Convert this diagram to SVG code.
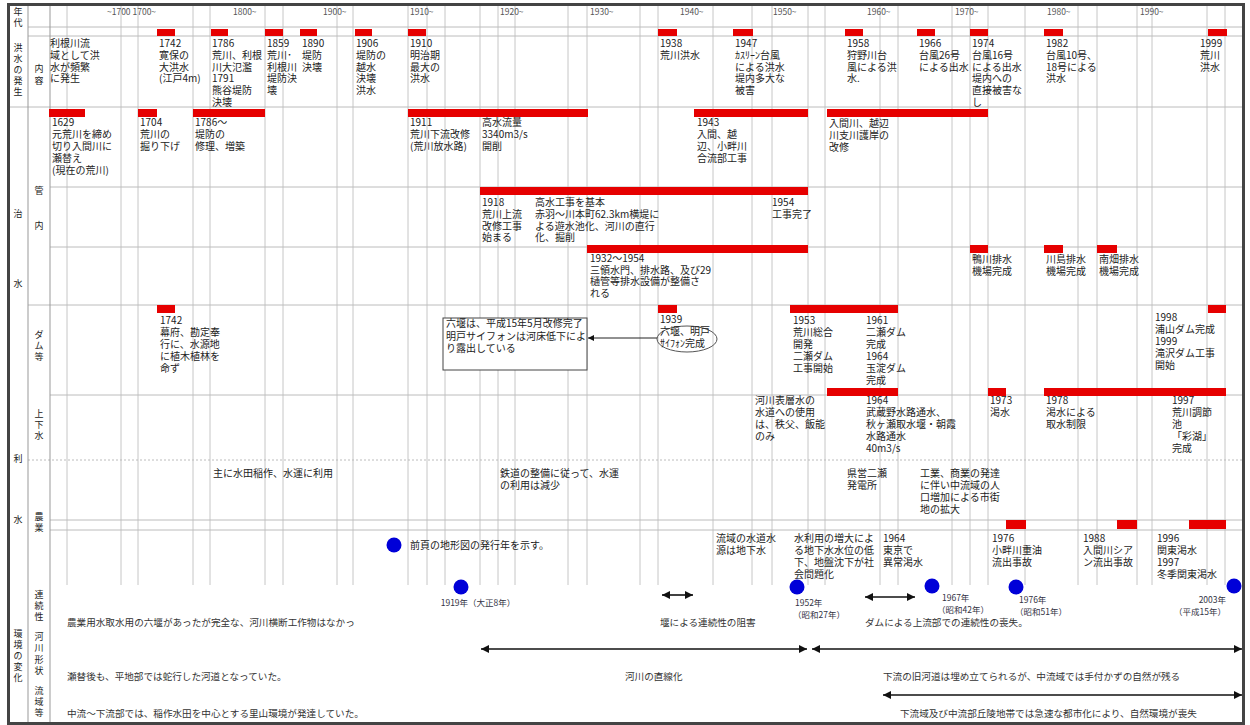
<svg xmlns="http://www.w3.org/2000/svg" width="1250" height="725" viewBox="0 0 1250 725">
<defs>
<style>
text{font-family:"Noto Sans CJK JP","Noto Sans",sans-serif;font-size:10px;fill:#222}
.hd{font-size:8.5px;fill:#555}
.lb{font-size:9px;fill:#222}
.yr{font-size:8.5px;fill:#334}
.lo{font-size:9.6px;fill:#333}
.bar{fill:#e60000}
.dot{fill:#0000d8}
.grid{stroke:#c6c6c6;stroke-width:1;fill:none}
.hl{stroke:#bcbcbc;stroke-width:1;fill:none}
.arr{stroke:#111;stroke-width:1.6;fill:none;marker-start:url(#ah);marker-end:url(#ah)}
.one{stroke:#222;stroke-width:1;fill:none;marker-end:url(#ah2)}
</style>
<marker id="ah" viewBox="0 0 10 10" refX="10" refY="5" markerWidth="9" markerHeight="8" markerUnits="userSpaceOnUse" orient="auto-start-reverse"><path d="M0,0L10,5L0,10z" fill="#111"/></marker>
<marker id="ah2" viewBox="0 0 10 10" refX="10" refY="5" markerWidth="7" markerHeight="6" markerUnits="userSpaceOnUse" orient="auto"><path d="M0,0L10,5L0,10z" fill="#111"/></marker>
</defs>
<rect x="0" y="0" width="1250" height="725" fill="#fff"/>

<g id="grid">
<path class="grid" d="M67,5V585M121,5V585M138,5V585M193,5V585M210,5V585M265,5V585M283,5V585M337,5V585M353,5V585M408,5V585M427,5V585M445,5V585M480,5V585M498,5V585M515,5V585M568,5V585M587,5V585M640,5V585M658,5V585M713,5V585M752,5V585M772,5V585M808,5V585M825,5V585M880,5V585M898,5V585M952,5V585M970,5V585M988,5V585M1025,5V585M1078,5V585M1097,5V585M1137,5V585M1152,5V585M1207,5V585M1225,5V585"/>
<path class="hl" d="M28,27H1243M28,36H1243M10,107H1243M50,187H1243M50,247H1243M28,305H1243M50,395H1243M50,520H1243M50,530H1243"/>
<path class="hl" stroke-dasharray="2 2" d="M28,460H1243"/>
<path stroke="#999" stroke-width="1" fill="none" d="M28,5V722M50,5V722"/>
<rect x="8.5" y="4.5" width="1235" height="719" fill="none" stroke="#444" stroke-width="3"/>
</g>

<g id="side-labels" text-anchor="middle" dominant-baseline="central">
<text class="lb" x="18" y="11">年</text><text class="lb" x="18" y="22">代</text>
<text class="lb" x="18" y="47">洪</text><text class="lb" x="18" y="58">水</text><text class="lb" x="18" y="69">の</text><text class="lb" x="18" y="80">発</text><text class="lb" x="18" y="91">生</text>
<text class="lb" x="39" y="68">内</text><text class="lb" x="39" y="80">容</text>
<text class="lb" x="39" y="190">管</text><text class="lb" x="39" y="225">内</text>
<text class="lb" x="18" y="213">治</text><text class="lb" x="18" y="283">水</text>
<text class="lb" x="39" y="334">ダ</text><text class="lb" x="39" y="345">ム</text><text class="lb" x="39" y="356">等</text>
<text class="lb" x="39" y="413">上</text><text class="lb" x="39" y="424">下</text><text class="lb" x="39" y="435">水</text>
<text class="lb" x="18" y="458">利</text><text class="lb" x="18" y="519">水</text>
<text class="lb" x="39" y="516">農</text><text class="lb" x="39" y="527">業</text>
<text class="lb" x="39" y="594">連</text><text class="lb" x="39" y="605">続</text><text class="lb" x="39" y="616">性</text>
<text class="lb" x="39" y="636">河</text><text class="lb" x="39" y="647">川</text><text class="lb" x="39" y="659">形</text><text class="lb" x="39" y="670">状</text>
<text class="lb" x="39" y="690">流</text><text class="lb" x="39" y="701">域</text><text class="lb" x="39" y="712">等</text>
<text class="lb" x="18" y="633">環</text><text class="lb" x="18" y="644">境</text><text class="lb" x="18" y="655">の</text><text class="lb" x="18" y="666">変</text><text class="lb" x="18" y="677">化</text>
</g>

<g id="decades">
<text class="hd" x="107" y="15">~1700 1700~</text>
<text class="hd" x="233" y="15">1800~</text>
<text class="hd" x="323" y="15">1900~</text>
<text class="hd" x="410" y="15">1910~</text>
<text class="hd" x="500" y="15">1920~</text>
<text class="hd" x="590" y="15">1930~</text>
<text class="hd" x="680" y="15">1940~</text>
<text class="hd" x="773" y="15">1950~</text>
<text class="hd" x="867" y="15">1960~</text>
<text class="hd" x="955" y="15">1970~</text>
<text class="hd" x="1047" y="15">1980~</text>
<text class="hd" x="1140" y="15">1990~</text>
</g>

<g id="bars">
<rect class="bar" x="157" y="29" width="18" height="7"/>
<rect class="bar" x="211" y="29" width="17" height="7"/>
<rect class="bar" x="265" y="29" width="18" height="7"/>
<rect class="bar" x="300" y="29" width="17" height="7"/>
<rect class="bar" x="355" y="29" width="17" height="7"/>
<rect class="bar" x="408" y="29" width="18" height="7"/>
<rect class="bar" x="658" y="29" width="19" height="7"/>
<rect class="bar" x="733" y="29" width="20" height="7"/>
<rect class="bar" x="845" y="29" width="18" height="7"/>
<rect class="bar" x="917" y="29" width="18" height="7"/>
<rect class="bar" x="970" y="29" width="18" height="7"/>
<rect class="bar" x="1044" y="29" width="19" height="7"/>
<rect class="bar" x="1208" y="29" width="19" height="7"/>

<rect class="bar" x="49" y="109" width="36" height="8"/>
<rect class="bar" x="138" y="109" width="19" height="8"/>
<rect class="bar" x="193" y="109" width="72" height="8"/>
<rect class="bar" x="408" y="109" width="180" height="8"/>
<rect class="bar" x="694" y="109" width="114" height="8"/>
<rect class="bar" x="827" y="109" width="161" height="8"/>

<rect class="bar" x="480" y="187" width="328" height="8"/>
<rect class="bar" x="587" y="245" width="221" height="8"/>
<rect class="bar" x="970" y="245" width="18" height="8"/>
<rect class="bar" x="1044" y="245" width="19" height="8"/>
<rect class="bar" x="1097" y="245" width="20" height="8"/>

<rect class="bar" x="157" y="305" width="18" height="8"/>
<rect class="bar" x="658" y="305" width="19" height="8"/>
<rect class="bar" x="790" y="305" width="108" height="8"/>
<rect class="bar" x="1208" y="305" width="18" height="8"/>

<rect class="bar" x="827" y="388" width="71" height="8"/>
<rect class="bar" x="988" y="388" width="18" height="8"/>
<rect class="bar" x="1044" y="388" width="182" height="8"/>

<rect class="bar" x="1006" y="520" width="20" height="9"/>
<rect class="bar" x="1117" y="520" width="20" height="9"/>
<rect class="bar" x="1189" y="520" width="37" height="9"/>
</g>

<g id="flood">
<g id="f-pre"><text x="50" y="47"><tspan x="50">利根川流</tspan><tspan x="50" dy="11.8">域として洪</tspan><tspan x="50" dy="11.8">水が頻繁</tspan><tspan x="50" dy="11.8">に発生</tspan></text></g>
<g id="f-1742"><text x="159" y="47"><tspan x="159">1742</tspan><tspan x="159" dy="11.8">寛保の</tspan><tspan x="159" dy="11.8">大洪水</tspan><tspan x="159" dy="11.8">(江戸4m)</tspan></text></g>
<g id="f-1786"><text x="212" y="47"><tspan x="212">1786</tspan><tspan x="212" dy="11.8">荒川、利根</tspan><tspan x="212" dy="11.8">川大氾濫</tspan><tspan x="212" dy="11.8">1791</tspan><tspan x="212" dy="11.8">熊谷堤防</tspan><tspan x="212" dy="11.8">決壊</tspan></text></g>
<g id="f-1859"><text x="267" y="47"><tspan x="267">1859</tspan><tspan x="267" dy="11.8">荒川･</tspan><tspan x="267" dy="11.8">利根川</tspan><tspan x="267" dy="11.8">堤防決</tspan><tspan x="267" dy="11.8">壊</tspan></text></g>
<g id="f-1890"><text x="302" y="47"><tspan x="302">1890</tspan><tspan x="302" dy="11.8">堤防</tspan><tspan x="302" dy="11.8">決壊</tspan></text></g>
<g id="f-1906"><text x="356" y="47"><tspan x="356">1906</tspan><tspan x="356" dy="11.8">堤防の</tspan><tspan x="356" dy="11.8">越水</tspan><tspan x="356" dy="11.8">決壊</tspan><tspan x="356" dy="11.8">洪水</tspan></text></g>
<g id="f-1910"><text x="410" y="47"><tspan x="410">1910</tspan><tspan x="410" dy="11.8">明治期</tspan><tspan x="410" dy="11.8">最大の</tspan><tspan x="410" dy="11.8">洪水</tspan></text></g>
<g id="f-1938"><text x="660" y="47"><tspan x="660">1938</tspan><tspan x="660" dy="11.8">荒川洪水</tspan></text></g>
<g id="f-1947"><text x="735" y="47"><tspan x="735">1947</tspan><tspan x="735" dy="11.8">ｶｽﾘｰﾝ台風</tspan><tspan x="735" dy="11.8">による洪水</tspan><tspan x="735" dy="11.8">堤内多大な</tspan><tspan x="735" dy="11.8">被害</tspan></text></g>
<g id="f-1958"><text x="847" y="47"><tspan x="847">1958</tspan><tspan x="847" dy="11.8">狩野川台</tspan><tspan x="847" dy="11.8">風による洪</tspan><tspan x="847" dy="11.8">水.</tspan></text></g>
<g id="f-1966"><text x="919" y="47"><tspan x="919">1966</tspan><tspan x="919" dy="11.8">台風26号</tspan><tspan x="919" dy="11.8">による出水</tspan></text></g>
<g id="f-1974"><text x="972" y="47"><tspan x="972">1974</tspan><tspan x="972" dy="11.8">台風16号</tspan><tspan x="972" dy="11.8">による出水</tspan><tspan x="972" dy="11.8">堤内への</tspan><tspan x="972" dy="11.8">直接被害な</tspan><tspan x="972" dy="11.8">し</tspan></text></g>
<g id="f-1982"><text x="1046" y="47"><tspan x="1046">1982</tspan><tspan x="1046" dy="11.8">台風10号、</tspan><tspan x="1046" dy="11.8">18号による</tspan><tspan x="1046" dy="11.8">洪水</tspan></text></g>
<g id="f-1999"><text x="1200" y="47"><tspan x="1200">1999</tspan><tspan x="1200" dy="11.8">荒川</tspan><tspan x="1200" dy="11.8">洪水</tspan></text></g>
</g>

<g id="flood-control">
<g id="c-1629"><text x="52" y="126"><tspan x="52">1629</tspan><tspan x="52" dy="12">元荒川を締め</tspan><tspan x="52" dy="12">切り入間川に</tspan><tspan x="52" dy="12">瀬替え</tspan><tspan x="52" dy="12">(現在の荒川)</tspan></text></g>
<g id="c-1704"><text x="140" y="126"><tspan x="140">1704</tspan><tspan x="140" dy="12">荒川の</tspan><tspan x="140" dy="12">掘り下げ</tspan></text></g>
<g id="c-1786"><text x="195" y="126"><tspan x="195">1786～</tspan><tspan x="195" dy="12">堤防の</tspan><tspan x="195" dy="12">修理、増築</tspan></text></g>
<g id="c-1911"><text x="410" y="126"><tspan x="410">1911</tspan><tspan x="410" dy="12">荒川下流改修</tspan><tspan x="410" dy="12">(荒川放水路)</tspan></text><text x="482" y="126"><tspan x="482">高水流量</tspan><tspan x="482" dy="12">3340m3/s</tspan><tspan x="482" dy="12">開削</tspan></text></g>
<g id="c-1943"><text x="697" y="126"><tspan x="697">1943</tspan><tspan x="697" dy="12">入間、越</tspan><tspan x="697" dy="12">辺、小畔川</tspan><tspan x="697" dy="12">合流部工事</tspan></text></g>
<g id="c-iruma"><text x="829" y="127"><tspan x="829">入間川、越辺</tspan><tspan x="829" dy="12">川支川護岸の</tspan><tspan x="829" dy="12">改修</tspan></text></g>
<g id="c-1918"><text x="482" y="206"><tspan x="482">1918</tspan><tspan x="482" dy="11.8">荒川上流</tspan><tspan x="482" dy="11.8">改修工事</tspan><tspan x="482" dy="11.8">始まる</tspan></text><text x="535" y="206"><tspan x="535">高水工事を基本</tspan><tspan x="535" dy="11.8">赤羽～川本町62.3km横堤に</tspan><tspan x="535" dy="11.8">よる遊水池化、河川の直行</tspan><tspan x="535" dy="11.8">化、掘削</tspan></text></g>
<g id="c-1954"><text x="772" y="206"><tspan x="772">1954</tspan><tspan x="772" dy="11.8">工事完了</tspan></text></g>
<g id="c-1932"><text x="590" y="262"><tspan x="590">1932～1954</tspan><tspan x="590" dy="11.7">三領水門、排水路、及び29</tspan><tspan x="590" dy="11.7">樋管等排水設備が整備さ</tspan><tspan x="590" dy="11.7">れる</tspan></text></g>
<g id="c-kamo"><text x="972" y="263"><tspan x="972">鴨川排水</tspan><tspan x="972" dy="11.7">機場完成</tspan></text></g>
<g id="c-kawajima"><text x="1046" y="263"><tspan x="1046">川島排水</tspan><tspan x="1046" dy="11.7">機場完成</tspan></text></g>
<g id="c-minami"><text x="1099" y="263"><tspan x="1099">南畑排水</tspan><tspan x="1099" dy="11.7">機場完成</tspan></text></g>
</g>

<g id="dams">
<g id="d-1742"><text x="160" y="324"><tspan x="160">1742</tspan><tspan x="160" dy="12">幕府、勘定奉</tspan><tspan x="160" dy="12">行に、水源地</tspan><tspan x="160" dy="12">に植木植林を</tspan><tspan x="160" dy="12">命ず</tspan></text></g>
<g id="d-note"><rect x="443" y="318" width="144" height="52" fill="#fff" stroke="#444" stroke-width="1"/><text x="446" y="327"><tspan x="446">六堰は、平成15年5月改修完了</tspan><tspan x="446" dy="12.5">明戸サイフォンは河床低下によ</tspan><tspan x="446" dy="12.5">り露出している</tspan></text></g>
<g id="d-1939"><ellipse cx="687" cy="339" rx="30" ry="13" fill="none" stroke="#555" stroke-width="1"/><text x="660" y="323"><tspan x="660">1939</tspan><tspan x="660" dy="12">六堰、明戸</tspan><tspan x="660" dy="12">ｻｲﾌｫﾝ完成</tspan></text></g>
<g id="d-1953"><text x="793" y="324"><tspan x="793">1953</tspan><tspan x="793" dy="12">荒川総合</tspan><tspan x="793" dy="12">開発</tspan><tspan x="793" dy="12">二瀬ダム</tspan><tspan x="793" dy="12">工事開始</tspan></text></g>
<g id="d-1961"><text x="866" y="324"><tspan x="866">1961</tspan><tspan x="866" dy="12">二瀬ダム</tspan><tspan x="866" dy="12">完成</tspan><tspan x="866" dy="12">1964</tspan><tspan x="866" dy="12">玉淀ダム</tspan><tspan x="866" dy="12">完成</tspan></text></g>
<g id="d-1998"><text x="1155" y="321"><tspan x="1155">1998</tspan><tspan x="1155" dy="12">浦山ダム完成</tspan><tspan x="1155" dy="12">1999</tspan><tspan x="1155" dy="12">滝沢ダム工事</tspan><tspan x="1155" dy="12">開始</tspan></text></g>
</g>

<g id="water-supply">
<g id="w-surface"><text x="755" y="404"><tspan x="755">河川表層水の</tspan><tspan x="755" dy="12">水道への使用</tspan><tspan x="755" dy="12">は、秩父、飯能</tspan><tspan x="755" dy="12">のみ</tspan></text></g>
<g id="w-1964"><text x="866" y="404"><tspan x="866">1964</tspan><tspan x="866" dy="12">武蔵野水路通水、</tspan><tspan x="866" dy="12">秋ヶ瀬取水堰・朝霞</tspan><tspan x="866" dy="12">水路通水</tspan><tspan x="866" dy="12">40m3/s</tspan></text></g>
<g id="w-1973"><text x="990" y="404"><tspan x="990">1973</tspan><tspan x="990" dy="12">渇水</tspan></text></g>
<g id="w-1978"><text x="1046" y="404"><tspan x="1046">1978</tspan><tspan x="1046" dy="12">渇水による</tspan><tspan x="1046" dy="12">取水制限</tspan></text></g>
<g id="w-1997"><text x="1172" y="404"><tspan x="1172">1997</tspan><tspan x="1172" dy="12">荒川調節</tspan><tspan x="1172" dy="12">池</tspan><tspan x="1172" dy="12">「彩湖」</tspan><tspan x="1172" dy="12">完成</tspan></text></g>
</g>

<g id="water-use">
<g id="u-paddy"><text x="213" y="477">主に水田稲作、水運に利用</text></g>
<g id="u-rail"><text x="500" y="477"><tspan x="500">鉄道の整備に従って、水運</tspan><tspan x="500" dy="12">の利用は減少</tspan></text></g>
<g id="u-power"><text x="847" y="477"><tspan x="847">県営二瀬</tspan><tspan x="847" dy="12">発電所</tspan></text></g>
<g id="u-urban"><text x="920" y="477"><tspan x="920">工業、商業の発達</tspan><tspan x="920" dy="12">に伴い中流域の人</tspan><tspan x="920" dy="12">口増加による市街</tspan><tspan x="920" dy="12">地の拡大</tspan></text></g>
<g id="u-ground"><text x="716" y="542"><tspan x="716">流域の水道水</tspan><tspan x="716" dy="12">源は地下水</tspan></text></g>
<g id="u-subsid"><text x="794" y="542"><tspan x="794">水利用の増大によ</tspan><tspan x="794" dy="12">る地下水水位の低</tspan><tspan x="794" dy="12">下、地盤沈下が社</tspan><tspan x="794" dy="12">会問題化</tspan></text></g>
<g id="u-1964"><text x="883" y="542"><tspan x="883">1964</tspan><tspan x="883" dy="12">東京で</tspan><tspan x="883" dy="12">異常渇水</tspan></text></g>
<g id="u-1976"><text x="992" y="542"><tspan x="992">1976</tspan><tspan x="992" dy="12">小畔川重油</tspan><tspan x="992" dy="12">流出事故</tspan></text></g>
<g id="u-1988"><text x="1083" y="542"><tspan x="1083">1988</tspan><tspan x="1083" dy="12">入間川シア</tspan><tspan x="1083" dy="12">ン流出事故</tspan></text></g>
<g id="u-1996"><text x="1157" y="542"><tspan x="1157">1996</tspan><tspan x="1157" dy="12">関東渇水</tspan><tspan x="1157" dy="12">1997</tspan><tspan x="1157" dy="12">冬季関東渇水</tspan></text></g>
</g>

<g id="maps">
<g id="m-legend"><circle class="dot" cx="394" cy="545" r="7.5"/><text x="410" y="549">前頁の地形図の発行年を示す。</text></g>
<g id="m-1919"><circle class="dot" cx="461" cy="587" r="7.5"/><text class="yr" x="478" y="606" text-anchor="middle">1919年（大正8年）</text></g>
<g id="m-1952"><circle class="dot" cx="797" cy="587" r="7.5"/><text class="yr" x="795" y="606"><tspan x="795">1952年</tspan><tspan x="793" dy="12">（昭和27年）</tspan></text></g>
<g id="m-1967"><circle class="dot" cx="932" cy="586" r="7.5"/><text class="yr" x="942" y="601"><tspan x="942">1967年</tspan><tspan x="937" dy="12">（昭和42年）</tspan></text></g>
<g id="m-1976"><circle class="dot" cx="1016" cy="587" r="7.5"/><text class="yr" x="1019" y="603"><tspan x="1019">1976年</tspan><tspan x="1015" dy="12">（昭和51年）</tspan></text></g>
<g id="m-2003"><circle class="dot" cx="1234" cy="586" r="7.5"/><text class="yr" x="1226" y="603" text-anchor="end"><tspan x="1226">2003年</tspan><tspan x="1226" dy="12">（平成15年）</tspan></text></g>
</g>

<g id="environment">
<g id="e-cont-1"><text class="lo" x="67" y="626">農業用水取水用の六堰があったが完全な、河川横断工作物はなかっ</text></g>
<g id="e-cont-2"><text class="lo" x="660" y="626">堰による連続性の阻害</text></g>
<g id="e-cont-3"><text class="lo" x="865" y="626">ダムによる上流部での連続性の喪失。</text></g>
<g id="e-shape-1"><text class="lo" x="67" y="680">瀬替後も、平地部では蛇行した河道となっていた。</text></g>
<g id="e-shape-2"><text class="lo" x="625" y="680">河川の直線化</text></g>
<g id="e-shape-3"><text class="lo" x="883" y="680">下流の旧河道は埋め立てられるが、中流域では手付かずの自然が残る</text></g>
<g id="e-basin-1"><text class="lo" x="67" y="717">中流～下流部では、稲作水田を中心とする里山環境が発達していた。</text></g>
<g id="e-basin-2"><text class="lo" x="900" y="717">下流域及び中流部丘陵地帯では急速な都市化により、自然環境が喪失</text></g>
</g>

<g id="connectors">
<line class="one" x1="657" y1="338" x2="588" y2="338"/>
<line class="arr" x1="662" y1="595" x2="693" y2="595"/>
<line class="arr" x1="865" y1="597" x2="915" y2="597"/>
<line class="arr" x1="481" y1="649" x2="807" y2="649"/>
<line class="arr" x1="812" y1="649" x2="1242" y2="649"/>
<line class="arr" x1="883" y1="695" x2="1242" y2="695"/>
</g>
</svg>
